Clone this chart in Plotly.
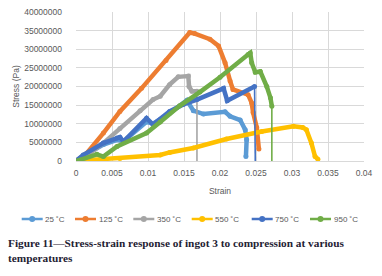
import plotly.graph_objects as go

# ---- data ----
series_names = ["25 ˚C", "125 ˚C", "350 ˚C", "550 ˚C", "750 ˚C", "950 ˚C"]
series_colors = ["#5b9bd5", "#ed7d31", "#a5a5a5", "#ffc000", "#4472c4", "#70ad47"]

strain_25 = [0, 0.001, 0.0038, 0.0057, 0.0066, 0.0098, 0.0107, 0.013, 0.0154, 0.0163,
             0.0177, 0.0207, 0.0214, 0.0228, 0.0235, 0.0237, 0.0236]
stress_25 = [0, 1.3e6, 4.4e6, 5.7e6, 5.3e6, 10.5e6, 10.0e6, 12.8e6, 16.3e6, 13.5e6,
             12.6e6, 13.2e6, 12.0e6, 11.0e6, 8.4e6, 5.7e6, 1.2e6]

strain_125 = [0, 0.0015, 0.0038, 0.0061, 0.0091, 0.0125, 0.0158, 0.0165, 0.0186, 0.0198,
              0.0207, 0.0214, 0.0218, 0.0239, 0.0244, 0.0246, 0.0251, 0.0254]
stress_125 = [0, 2.1e6, 7.5e6, 13.3e6, 19.5e6, 27.0e6, 34.5e6, 34.2e6, 32.7e6, 30.9e6,
              26.4e6, 21.5e6, 19.2e6, 17.8e6, 15.6e6, 13.0e6, 9.0e6, 3.2e6]

strain_350 = [0, 0.0015, 0.0038, 0.0061, 0.0089, 0.0107, 0.0117, 0.013, 0.0142, 0.0156,
              0.0157, 0.0161, 0.0168, 0.0168]
stress_350 = [0, 1.5e6, 4.8e6, 8.7e6, 13.5e6, 16.5e6, 17.4e6, 20.5e6, 22.6e6, 22.8e6,
              20.0e6, 18.7e6, 18.7e6, 0]

strain_550 = [0, 0.0061, 0.0117, 0.013, 0.0163, 0.0209, 0.0258, 0.0302, 0.0315, 0.032,
              0.0327, 0.0332, 0.0336]
stress_550 = [0, 0.7e6, 1.6e6, 2.3e6, 3.5e6, 5.9e6, 7.9e6, 9.3e6, 9.0e6, 8.4e6,
              4.8e6, 1.2e6, 0.5e6]

strain_750 = [0, 0.001, 0.0038, 0.0057, 0.0061, 0.0066, 0.0098, 0.0107, 0.013, 0.0149,
              0.0168, 0.0205, 0.021, 0.0248, 0.0249]
stress_750 = [0, 1.6e6, 4.8e6, 6.2e6, 6.4e6, 5.2e6, 11.5e6, 9.8e6, 13.3e6, 15.2e6,
              16.5e6, 19.5e6, 16.2e6, 20.0e6, 0]

strain_950 = [0, 0.0006, 0.0029, 0.0038, 0.0057, 0.0098, 0.0117, 0.0144, 0.0172, 0.02,
              0.0239, 0.0242, 0.0244, 0.0249, 0.0256, 0.0265, 0.027, 0.0272, 0.0272]
stress_950 = [0, 0.3e6, 1.8e6, 1.2e6, 3.9e6, 7.5e6, 10.5e6, 14.8e6, 18.5e6, 22.5e6,
              28.6e6, 29.0e6, 26.4e6, 23.8e6, 24.0e6, 20.0e6, 17.0e6, 14.7e6, 0]

x_tick_vals = [0, 0.005, 0.01, 0.015, 0.02, 0.025, 0.03, 0.035, 0.04]
x_tick_text = ["0", "0.005", "0.01", "0.015", "0.02", "0.025", "0.03", "0.035", "0.04"]
y_tick_vals = [0, 5e6, 10e6, 15e6, 20e6, 25e6, 30e6, 35e6, 40e6]
y_tick_text = ["0", "5000000", "10000000", "15000000", "20000000", "25000000",
               "30000000", "35000000", "40000000"]

caption = ("<b>Figure 11\u2014Stress-strain response of ingot 3 to compression at various"
           "<br>temperatures</b>")

all_strain = [strain_25, strain_125, strain_350, strain_550, strain_750, strain_950]
all_stress = [stress_25, stress_125, stress_350, stress_550, stress_750, stress_950]

# ---- layout geometry (pixels) ----
W, H = 382, 276
ML, MR, MT, MB = 76, 18, 12, 115
PW, PH = W - ML - MR, H - MT - MB


def px_to_paper_x(px):
    return (px - ML) / PW


def px_to_paper_y(py):
    return (H - MB - py) / PH


legend_line_starts = [21.7, 75, 133.3, 191.7, 251.7, 310]  # pixel positions of legend keys
legend_y_px = 219

fig = go.Figure()
for name, color, xs, ys in zip(series_names, series_colors, all_strain, all_stress):
    # final unloading drop to zero is drawn as a thin line
    if ys[-1] == 0:
        main_x, main_y = xs[:-1], ys[:-1]
        fig.add_trace(go.Scatter(x=xs[-2:], y=ys[-2:], mode="lines",
                                 line=dict(color=color, width=1.6),
                                 showlegend=False, hoverinfo="skip"))
    else:
        main_x, main_y = xs, ys
    fig.add_trace(go.Scatter(x=main_x, y=main_y, name=name, mode="lines+markers",
                             line=dict(color=color, width=4.5),
                             marker=dict(color=color, size=5), showlegend=False))

# legend (Excel style: short line with a dot, then label)
ly = px_to_paper_y(legend_y_px)
for name, color, sx in zip(series_names, series_colors, legend_line_starts):
    fig.add_shape(type="line", xref="paper", yref="paper",
                  x0=px_to_paper_x(sx), x1=px_to_paper_x(sx + 21), y0=ly, y1=ly,
                  line=dict(color=color, width=2.5))
    fig.add_shape(type="circle", xref="paper", yref="paper",
                  xsizemode="pixel", ysizemode="pixel",
                  xanchor=px_to_paper_x(sx + 10.5), yanchor=ly,
                  x0=-3, x1=3, y0=-3, y1=3,
                  fillcolor=color, line=dict(color=color, width=0))
    fig.add_annotation(text=name, xref="paper", yref="paper",
                       x=px_to_paper_x(sx + 22.5), y=ly, xanchor="left", yanchor="middle",
                       showarrow=False, borderpad=0,
                       font=dict(family="Liberation Sans, Arial, sans-serif", size=8,
                                 color="#595959"))

axis_font = dict(family="Liberation Sans, Arial, sans-serif", size=8.5, color="#595959")
fig.update_layout(
    width=W, height=H,
    margin=dict(l=ML, r=MR, t=MT, b=MB),
    paper_bgcolor="white", plot_bgcolor="white",
    font=axis_font,
    showlegend=False,
    xaxis=dict(range=[0, 0.04], tickvals=x_tick_vals, ticktext=x_tick_text,
               showgrid=True, gridcolor="#d9d9d9", gridwidth=1,
               zeroline=False, showline=True, linecolor="#d9d9d9", ticks="",
               tickfont=axis_font, automargin=False, ticklabelstandoff=4,
               title=dict(text="Strain", font=axis_font, standoff=10)),
    yaxis=dict(range=[0, 40e6], tickvals=y_tick_vals, ticktext=y_tick_text,
               showgrid=True, gridcolor="#d9d9d9", gridwidth=1,
               zeroline=False, showline=False, ticks="",
               tickfont=axis_font, automargin=False, ticklabelstandoff=13,
               title=dict(text="Stress (Pa)", font=axis_font, standoff=3)),
)
fig.add_annotation(text=caption, xref="paper", yref="paper",
                   x=px_to_paper_x(7), y=px_to_paper_y(236),
                   xanchor="left", yanchor="top", align="left", showarrow=False,
                   borderpad=0,
                   font=dict(family="Liberation Serif, Times New Roman, serif", size=11.3,
                             color="#1f2233"))

fig.write_html("out.html", config={"displayModeBar": False},
               post_script="document.body.style.margin='0';")
